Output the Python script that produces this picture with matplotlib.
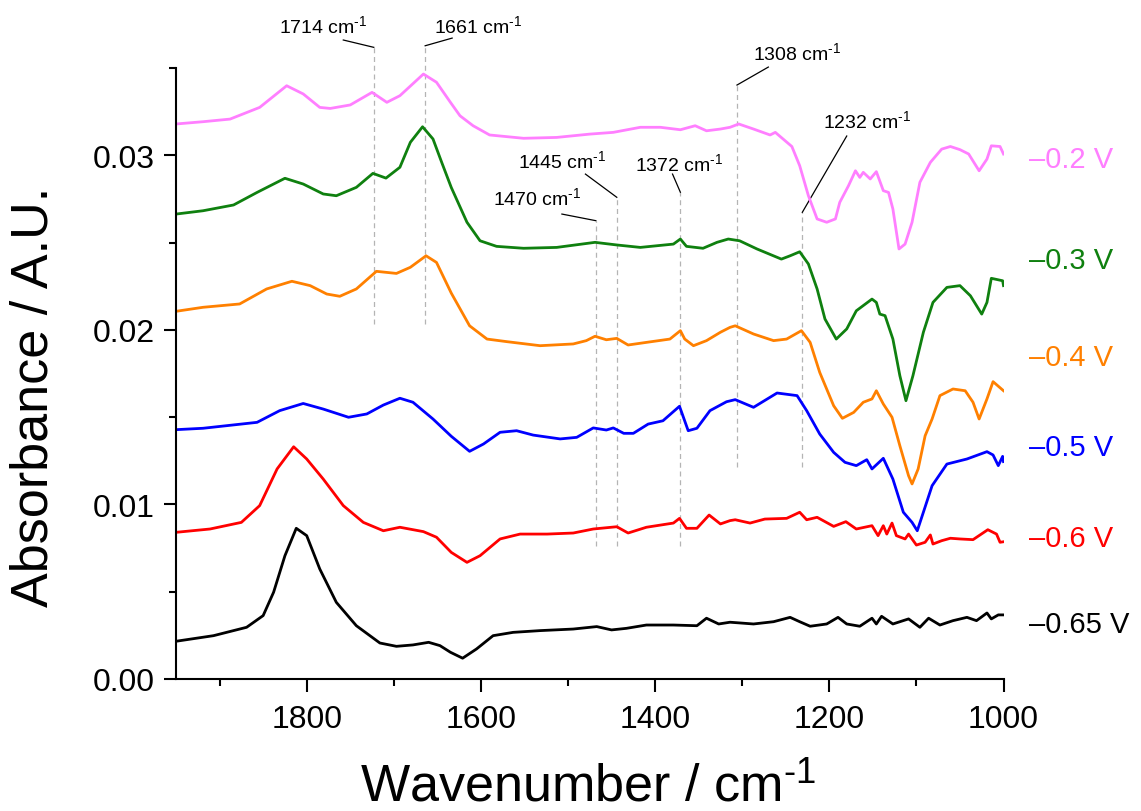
import matplotlib

matplotlib.use("Agg")
import matplotlib.pyplot as plt
from matplotlib.ticker import MultipleLocator, FormatStrFormatter

plt.rcParams["font.family"] = ["Liberation Sans", "DejaVu Sans"]
plt.rcParams["mathtext.fontset"] = "custom"
plt.rcParams["mathtext.rm"] = "Liberation Sans"
plt.rcParams["mathtext.it"] = "Liberation Sans:italic"
plt.rcParams["mathtext.bf"] = "Liberation Sans:bold"

# ---- spectra (wavenumber / cm-1, absorbance) ----
WN_02 = [1950, 1919, 1888, 1854, 1823, 1804, 1785, 1773, 1750, 1725,
         1708, 1693, 1666, 1651, 1635, 1624, 1609, 1590, 1551, 1513,
         1475, 1448, 1417, 1394, 1371, 1354, 1341, 1325, 1314, 1304,
         1287, 1268, 1262, 1243, 1234, 1224, 1214, 1203, 1193, 1188,
         1178, 1170, 1165, 1161, 1153, 1146, 1138, 1132, 1127, 1120,
         1113, 1105, 1096, 1084, 1071, 1061, 1050, 1040, 1028, 1019,
         1014, 1004, 1000]
ABS_02 = [0.03179, 0.03192, 0.03207, 0.03274, 0.03398, 0.03351, 0.03274, 0.03268, 0.03288, 0.03360,
          0.03303, 0.03341, 0.03465, 0.03418, 0.03303, 0.03226, 0.03169, 0.03116, 0.03097, 0.03102,
          0.03121, 0.03131, 0.03160, 0.03160, 0.03146, 0.03169, 0.03140, 0.03150, 0.03160, 0.03179,
          0.03150, 0.03116, 0.03131, 0.03050, 0.02940, 0.02768, 0.02635, 0.02616, 0.02635, 0.02730,
          0.02825, 0.02911, 0.02873, 0.02902, 0.02864, 0.02906, 0.02797, 0.02787, 0.02692, 0.02463,
          0.02491, 0.02616, 0.02845, 0.02959, 0.03035, 0.03050, 0.03032, 0.03007, 0.02911, 0.02978,
          0.03054, 0.03050, 0.03007]

WN_03 = [1950, 1919, 1884, 1857, 1825, 1804, 1781, 1766, 1743, 1724,
         1709, 1693, 1681, 1667, 1655, 1645, 1634, 1616, 1601, 1582,
         1551, 1513, 1469, 1444, 1417, 1379, 1371, 1364, 1345, 1329,
         1316, 1303, 1283, 1255, 1245, 1234, 1224, 1214, 1205, 1192,
         1180, 1169, 1151, 1146, 1142, 1136, 1127, 1119, 1112, 1104,
         1092, 1081, 1065, 1050, 1038, 1025, 1019, 1014, 1001, 1000]
ABS_03 = [0.02663, 0.02682, 0.02715, 0.02787, 0.02868, 0.02835, 0.02778, 0.02768, 0.02816, 0.02896,
          0.02869, 0.02931, 0.03074, 0.03163, 0.03093, 0.02959, 0.02815, 0.02616, 0.02510, 0.02478,
          0.02467, 0.02472, 0.02501, 0.02486, 0.02472, 0.02491, 0.02520, 0.02478, 0.02467, 0.02501,
          0.02520, 0.02510, 0.02463, 0.02405, 0.02424, 0.02447, 0.02377, 0.02234, 0.02062, 0.01947,
          0.02005, 0.02109, 0.02176, 0.02157, 0.02090, 0.02081, 0.01947, 0.01737, 0.01594, 0.01737,
          0.01986, 0.02157, 0.02243, 0.02253, 0.02195, 0.02090, 0.02157, 0.02295, 0.02281, 0.02253]

WN_04 = [1950, 1919, 1877, 1846, 1817, 1796, 1777, 1762, 1743, 1720,
         1697, 1681, 1663, 1651, 1634, 1613, 1593, 1570, 1532, 1494,
         1479, 1469, 1456, 1444, 1431, 1410, 1383, 1371, 1366, 1356,
         1341, 1325, 1314, 1308, 1287, 1264, 1249, 1232, 1222, 1211,
         1195, 1185, 1172, 1161, 1151, 1146, 1138, 1128, 1119, 1109,
         1105, 1098, 1090, 1082, 1073, 1058, 1044, 1035, 1028, 1019,
         1012, 1000]
ABS_04 = [0.02106, 0.02129, 0.02148, 0.02234, 0.02278, 0.02253, 0.02205, 0.02192, 0.02234, 0.02335,
          0.02323, 0.02358, 0.02424, 0.02386, 0.02210, 0.02023, 0.01947, 0.01932, 0.01909, 0.01919,
          0.01938, 0.01963, 0.01943, 0.01951, 0.01913, 0.01928, 0.01947, 0.01995, 0.01947, 0.01909,
          0.01938, 0.01986, 0.02014, 0.02023, 0.01976, 0.01938, 0.01947, 0.01995, 0.01928, 0.01756,
          0.01565, 0.01493, 0.01527, 0.01585, 0.01604, 0.01651, 0.01575, 0.01499, 0.01336, 0.01164,
          0.01117, 0.01203, 0.01393, 0.01489, 0.01623, 0.01661, 0.01651, 0.01585, 0.01489, 0.01604,
          0.01703, 0.01651]

WN_05 = [1950, 1919, 1857, 1831, 1804, 1781, 1752, 1731, 1712, 1693,
         1678, 1655, 1634, 1613, 1597, 1578, 1559, 1540, 1509, 1490,
         1471, 1456, 1448, 1436, 1425, 1408, 1391, 1372, 1362, 1352,
         1337, 1318, 1308, 1287, 1260, 1237, 1226, 1211, 1195, 1182,
         1169, 1157, 1151, 1138, 1127, 1115, 1105, 1099, 1092, 1082,
         1065, 1042, 1019, 1012, 1006, 1001, 1000]
ABS_05 = [0.01428, 0.01436, 0.01470, 0.01537, 0.01578, 0.01546, 0.01499, 0.01518, 0.01569, 0.01608,
          0.01585, 0.01489, 0.01390, 0.01304, 0.01346, 0.01413, 0.01422, 0.01397, 0.01375, 0.01384,
          0.01438, 0.01426, 0.01438, 0.01407, 0.01407, 0.01460, 0.01479, 0.01562, 0.01422, 0.01436,
          0.01537, 0.01588, 0.01600, 0.01556, 0.01638, 0.01623, 0.01537, 0.01403, 0.01298, 0.01241,
          0.01222, 0.01256, 0.01203, 0.01264, 0.01145, 0.00955, 0.00897, 0.00849, 0.00955, 0.01107,
          0.01231, 0.01260, 0.01302, 0.01283, 0.01222, 0.01275, 0.01245]

WN_06 = [1950, 1911, 1875, 1854, 1834, 1815, 1800, 1781, 1758, 1735,
         1712, 1693, 1666, 1651, 1634, 1616, 1601, 1578, 1555, 1524,
         1494, 1471, 1444, 1431, 1410, 1379, 1372, 1364, 1352, 1338,
         1325, 1314, 1308, 1291, 1274, 1249, 1234, 1226, 1214, 1195,
         1181, 1169, 1151, 1144, 1138, 1134, 1128, 1123, 1113, 1109,
         1100, 1090, 1084, 1081, 1071, 1061, 1050, 1035, 1018, 1008,
         1004, 1000]
ABS_06 = [0.00840, 0.00859, 0.00897, 0.00993, 0.01203, 0.01330, 0.01260, 0.01145, 0.00993, 0.00897,
          0.00849, 0.00869, 0.00844, 0.00812, 0.00725, 0.00668, 0.00706, 0.00802, 0.00830, 0.00830,
          0.00836, 0.00859, 0.00872, 0.00836, 0.00869, 0.00893, 0.00920, 0.00863, 0.00863, 0.00939,
          0.00888, 0.00907, 0.00912, 0.00893, 0.00916, 0.00920, 0.00955, 0.00912, 0.00926, 0.00874,
          0.00901, 0.00859, 0.00878, 0.00821, 0.00878, 0.00830, 0.00893, 0.00821, 0.00802, 0.00830,
          0.00767, 0.00783, 0.00825, 0.00773, 0.00792, 0.00806, 0.00802, 0.00798, 0.00855, 0.00830,
          0.00783, 0.00786]

WN_065 = [1950, 1907, 1869, 1850, 1838, 1825, 1812, 1800, 1785, 1766,
          1743, 1716, 1697, 1678, 1660, 1647, 1635, 1621, 1605, 1586,
          1563, 1532, 1494, 1467, 1450, 1433, 1410, 1379, 1352, 1341,
          1327, 1314, 1303, 1287, 1264, 1245, 1234, 1222, 1203, 1190,
          1180, 1165, 1151, 1146, 1140, 1127, 1109, 1096, 1086, 1073,
          1058, 1042, 1031, 1019, 1014, 1006, 1000]
ABS_065 = [0.00216, 0.00248, 0.00296, 0.00363, 0.00497, 0.00706, 0.00863, 0.00821, 0.00630, 0.00439,
           0.00305, 0.00206, 0.00187, 0.00195, 0.00210, 0.00191, 0.00153, 0.00119, 0.00172, 0.00248,
           0.00267, 0.00277, 0.00286, 0.00300, 0.00281, 0.00290, 0.00309, 0.00309, 0.00305, 0.00348,
           0.00315, 0.00325, 0.00321, 0.00315, 0.00328, 0.00353, 0.00328, 0.00302, 0.00315, 0.00353,
           0.00315, 0.00302, 0.00348, 0.00315, 0.00359, 0.00315, 0.00344, 0.00296, 0.00348, 0.00309,
           0.00334, 0.00353, 0.00334, 0.00378, 0.00344, 0.00367, 0.00367]

POTENTIALS = ["\u20130.2 V", "\u20130.3 V", "\u20130.4 V", "\u20130.5 V", "\u20130.6 V", "\u20130.65 V"]
COLORS = ["#FF7FFF", "#0F800F", "#FF8000", "#0000FF", "#FF0000", "#000000"]
LABEL_Y = [0.02932, 0.02354, 0.01798, 0.01283, 0.00762, 0.00269]

# ---- band annotations ----
BAND_TEXT = ["1714", "1661", "1470", "1445", "1372", "1308", "1232"]
BAND_X = [1723, 1664, 1468, 1444, 1371, 1306, 1231]
BAND_TOP = [0.03618, 0.03627, 0.02625, 0.02759, 0.02788, 0.03402, 0.02673]
BAND_BOTTOM = [0.02033, 0.02033, 0.00762, 0.00762, 0.00762, 0.01214, 0.01214]
LEADER_X = [1758, 1633, 1507, 1480, 1380, 1270, 1180]
LEADER_Y = [0.03660, 0.03671, 0.02663, 0.02892, 0.02892, 0.03505, 0.03110]
TEXT_X = [1781, 1603, 1535, 1507, 1372, 1237, 1157]
TEXT_Y = [0.03703, 0.03704, 0.02721, 0.02932, 0.02912, 0.03551, 0.03162]

# superscript "-1" written with a real hyphen, as in the original
INV_CM = "cm$^{\u2010 1}$"

fig = plt.figure(figsize=(11.41, 8.12), dpi=100)
ax = fig.add_axes([0.1543, 0.1626, 0.7252, 0.7525])

spectra = [(WN_02, ABS_02), (WN_03, ABS_03), (WN_04, ABS_04),
           (WN_05, ABS_05), (WN_06, ABS_06), (WN_065, ABS_065)]

for i in range(len(BAND_X)):
    ax.plot([BAND_X[i], BAND_X[i]], [BAND_BOTTOM[i], BAND_TOP[i]], color="#B4B4B4",
            lw=0.9, linestyle=(0, (4, 3)), clip_on=False, zorder=1)
    ax.plot([BAND_X[i], LEADER_X[i]], [BAND_TOP[i], LEADER_Y[i]], color="black",
            lw=0.9, clip_on=False, zorder=1)
    ax.text(TEXT_X[i], TEXT_Y[i], BAND_TEXT[i] + " " + INV_CM, fontsize=14,
            ha="center", va="baseline", clip_on=False)

for (wn, ab), color, label, ly in zip(spectra, COLORS, POTENTIALS, LABEL_Y):
    ax.plot(wn, ab, color=color, lw=2.0, zorder=2)
    ax.text(970.7, ly, label, color=color, fontsize=21, ha="left", va="baseline",
            clip_on=False)

ax.set_xlim(1950, 1000)
ax.set_ylim(0, 0.035)
ax.spines[["top", "right"]].set_visible(False)
for side in ("left", "bottom"):
    ax.spines[side].set_linewidth(1.5)

ax.xaxis.set_major_locator(MultipleLocator(200))
ax.xaxis.set_minor_locator(MultipleLocator(100))
ax.yaxis.set_major_locator(MultipleLocator(0.01))
ax.yaxis.set_minor_locator(MultipleLocator(0.005))
ax.yaxis.set_major_formatter(FormatStrFormatter("%.2f"))
ax.tick_params(which="major", direction="out", length=9, width=1.5, labelsize=23)
ax.tick_params(which="minor", direction="out", length=5, width=1.5)
ax.tick_params(axis="x", which="major", pad=9)
ax.tick_params(axis="y", which="major", pad=6)

fig.text(0.5155, 0.013, "Wavenumber / " + INV_CM, fontsize=37.5, ha="center", va="baseline")
fig.text(0.0298, 0.511, "Absorbance / A.U.", fontsize=37.5, rotation=90,
         ha="center", va="center")

fig.savefig("out.png", dpi=100)
